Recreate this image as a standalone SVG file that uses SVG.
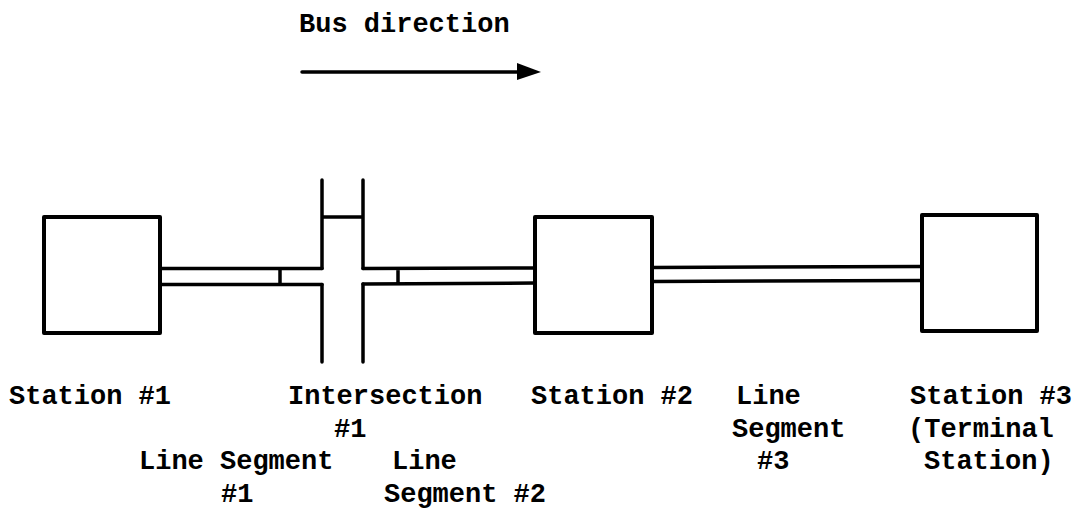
<svg xmlns="http://www.w3.org/2000/svg" width="1091" height="512" viewBox="0 0 1091 512">
<style>
.box{fill:none;stroke:#000;stroke-width:4;stroke-linejoin:round}
.ln{fill:none;stroke:#000;stroke-width:3.5;stroke-linecap:round;stroke-linejoin:round}
text{font-family:"Liberation Mono","DejaVu Sans Mono",monospace;font-weight:bold;font-size:27px;fill:#000}
</style>
<rect width="1091" height="512" fill="#fff"/>
<g id="title">
<text x="299" y="32">Bus direction</text>
<path d="M302,72 L518,72" class="ln"/>
<path d="M517,63 L541,72 L517,80 Z" fill="#000"/>
</g>
<g id="station1">
<rect class="box" x="44" y="217" width="116" height="116"/>
<text x="9" y="404">Station #1</text>
</g>
<g id="intersection1">
<path class="ln" d="M322,180 L322,268.5 M363,180 L363,268.5 M322,217 L363,217 M322,284.5 L322,362 M363,284 L363,362"/>
<text x="288" y="404">Intersection</text>
<text x="334" y="437">#1</text>
</g>
<g id="station2">
<rect class="box" x="535" y="217" width="117" height="116"/>
<text x="531" y="404">Station #2</text>
</g>
<g id="station3">
<rect class="box" x="922" y="215" width="115" height="116"/>
<text x="910" y="404">Station #3</text>
<text x="908" y="437">(Terminal</text>
<text x="924" y="469">Station)</text>
</g>
<g id="connectors">
<g id="segment1">
<path class="ln" d="M160,268.5 L322,268.5 M160,284.5 L322,284.5 M280,268.5 L280,284.5"/>
<text x="139" y="469">Line Segment</text>
<text x="221" y="502">#1</text>
</g>
<g id="segment2">
<path class="ln" d="M363,268.5 L535,268 M363,284 L535,283 M398,268.5 L398,284"/>
<text x="392" y="469">Line</text>
<text x="384" y="502">Segment #2</text>
</g>
<g id="segment3">
<path class="ln" d="M652,267.5 L922,266.5 M652,281.5 L922,280.5"/>
<text x="736" y="404">Line</text>
<text x="732" y="437">Segment</text>
<text x="757" y="469">#3</text>
</g>
</g>
</svg>
